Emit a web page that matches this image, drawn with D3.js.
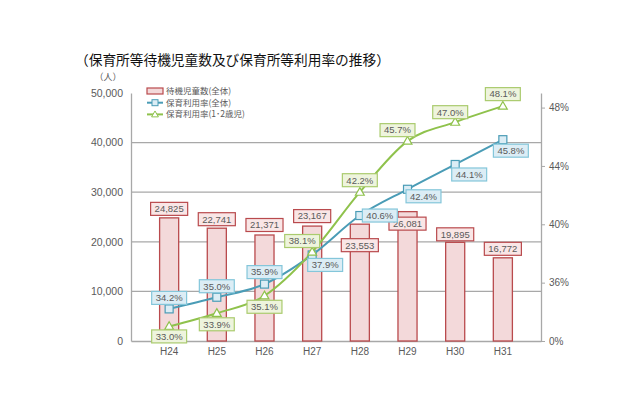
<!DOCTYPE html>
<html>
<head>
<meta charset="utf-8">
<script src="https://cdn.jsdelivr.net/npm/d3@7"></script>
<style>
  body { margin: 0; background: #fff; }
  svg { font-family: 'Noto Sans CJK JP', 'Noto Sans', sans-serif; }
</style>
</head>
<body>
<svg width="640" height="395"></svg>
<script>
// chart data
const years = ['H24', 'H25', 'H26', 'H27', 'H28', 'H29', 'H30', 'H31'];
const waiting = [24825, 22741, 21371, 23167, 23553, 26081, 19895, 16772];
const rateAll = [34.2, 35.0, 35.9, 37.9, 40.6, 42.4, 44.1, 45.8];
const rateYoung = [33.0, 33.9, 35.1, 38.1, 42.2, 45.7, 47.0, 48.1];
const leftTicks = [0, 10000, 20000, 30000, 40000, 50000];
const rightTicks = [32, 36, 40, 44, 48]; // lowest shown as 0% (broken axis)
const legendNames = ['待機児童数(全体)', '保育利用率(全体)', '保育利用率(1･2歳児)'];

// label placement (dx, dy from the mark)
const barLabelDy = [-9, -9, -10, -10, 21, 12, -8, -9];
const allLabelPos = [[0, -11], [0, -11], [0, -12], [13, 10], [20, 0], [16, 7], [14, 10], [8, 11]];
const youngLabelPos = [[0, 10], [0, 11], [0, 11], [-10, -11], [0, -12], [-10, -11], [-5, -10], [0, -12]];

const colors = {
  barFill: '#f3d9da', barStroke: '#b94a4d', barBox: '#f9e6e6',
  blue: '#4a9cb6', blueFill: '#dcedf5', blueBox: '#84c6da',
  green: '#8fc24c', greenFill: '#eef4dd', greenBox: '#aacb6e',
  grid: '#a8a8a8', text: '#5a5a5a'
};

const svg = d3.select('svg');
const margin = { top: 93, right: 99, bottom: 54, left: 131 };
const width = +svg.attr('width');
const height = +svg.attr('height');
const innerWidth = width - margin.left - margin.right;
const innerHeight = height - margin.top - margin.bottom;

const x = d3.scaleBand().domain(years).range([0, innerWidth]).padding(0.6);
const yLeft = d3.scaleLinear().domain([0, 50000]).range([innerHeight, 0]);
const yRight = d3.scaleLinear().domain([32, 49]).range([innerHeight, 0]);
const cx = (i) => x(years[i]) + x.bandwidth() / 2;

// title
svg.append('text')
  .attr('x', 75).attr('y', 65)
  .attr('font-size', 13.7).attr('fill', '#111')
  .text('（保育所等待機児童数及び保育所等利用率の推移）');

svg.append('text')
  .attr('x', 108).attr('y', 80)
  .attr('text-anchor', 'middle')
  .attr('font-size', 9).attr('fill', colors.text)
  .text('（人）');

const g = svg.append('g').attr('transform', `translate(${margin.left},${margin.top})`);

// gridlines
g.selectAll('.grid')
  .data(leftTicks.filter((d) => d > 0 && d < 50000))
  .enter().append('line')
  .attr('x1', 0).attr('x2', innerWidth)
  .attr('y1', (d) => yLeft(d)).attr('y2', (d) => yLeft(d))
  .attr('stroke', colors.grid).attr('stroke-width', 1.3);

// left axis
const leftAxis = g.append('g')
  .call(d3.axisLeft(yLeft).tickValues(leftTicks).tickFormat(d3.format(',')).tickSize(0).tickPadding(8));
leftAxis.select('.domain').attr('stroke', colors.grid).attr('stroke-width', 1.3);
leftAxis.selectAll('text').attr('font-size', 10.5).attr('fill', colors.text)
  .attr('font-family', 'Liberation Sans, Arial, sans-serif');

// right axis
const rightAxis = g.append('g')
  .attr('transform', `translate(${innerWidth},0)`)
  .call(d3.axisRight(yRight).tickValues(rightTicks)
    .tickFormat((d) => (d === 32 ? '0%' : d + '%')).tickSize(4).tickSizeOuter(0).tickPadding(4));
rightAxis.select('.domain').attr('stroke', colors.grid).attr('stroke-width', 1.3);
rightAxis.selectAll('line').attr('stroke', colors.grid);
rightAxis.selectAll('text').attr('font-size', 10).attr('fill', colors.text)
  .attr('font-family', 'Liberation Sans, Arial, sans-serif');

// bottom axis
const bottomAxis = g.append('g')
  .attr('transform', `translate(0,${innerHeight})`)
  .call(d3.axisBottom(x).tickSize(0).tickPadding(7));
bottomAxis.select('.domain').attr('stroke', colors.grid).attr('stroke-width', 1.3);
bottomAxis.selectAll('text').attr('font-size', 10).attr('fill', colors.text)
  .attr('font-family', 'Liberation Sans, Arial, sans-serif');

// bars
g.selectAll('.bar')
  .data(waiting)
  .enter().append('rect')
  .attr('x', (d, i) => x(years[i]))
  .attr('y', (d) => yLeft(d))
  .attr('width', x.bandwidth())
  .attr('height', (d) => innerHeight - yLeft(d))
  .attr('fill', colors.barFill)
  .attr('stroke', colors.barStroke)
  .attr('stroke-width', 1.3);

// lines
const drawLine = (values, color) => {
  const line = d3.line()
    .x((d, i) => cx(i))
    .y((d) => yRight(d))
    .curve(d3.curveMonotoneX);
  g.append('path')
    .datum(values)
    .attr('d', line)
    .attr('fill', 'none')
    .attr('stroke', color)
    .attr('stroke-width', 2);
};
drawLine(rateAll, colors.blue);
drawLine(rateYoung, colors.green);

// markers
g.selectAll('.sq')
  .data(rateAll)
  .enter().append('rect')
  .attr('x', (d, i) => cx(i) - 4)
  .attr('y', (d) => yRight(d) - 4)
  .attr('width', 8).attr('height', 8)
  .attr('fill', colors.blueFill)
  .attr('stroke', colors.blue).attr('stroke-width', 1.2);

const tri = d3.symbol().type(d3.symbolTriangle).size(34);
g.selectAll('.tri')
  .data(rateYoung)
  .enter().append('path')
  .attr('d', tri)
  .attr('transform', (d, i) => `translate(${cx(i)},${yRight(d) + 0.5})`)
  .attr('fill', '#fff')
  .attr('stroke', colors.green).attr('stroke-width', 1.2);

// boxed value labels
const boxLabel = (px, py, text, fill, stroke) => {
  const lg = g.append('g').attr('transform', `translate(${px},${py})`);
  const rect = lg.append('rect').attr('fill', fill).attr('stroke', stroke).attr('stroke-width', 1.2);
  const t = lg.append('text')
    .attr('text-anchor', 'middle')
    .attr('dy', '0.35em')
    .attr('font-size', 9.5)
    .attr('font-family', 'Liberation Sans, Arial, sans-serif')
    .attr('fill', colors.text)
    .text(text);
  const w = t.node().getComputedTextLength() + 8;
  rect.attr('x', -w / 2).attr('y', -6.5).attr('width', w).attr('height', 13);
};

waiting.forEach((d, i) =>
  boxLabel(cx(i), yLeft(d) + barLabelDy[i], d3.format(',')(d), colors.barBox, colors.barStroke));
rateAll.forEach((d, i) =>
  boxLabel(cx(i) + allLabelPos[i][0], yRight(d) + allLabelPos[i][1], d.toFixed(1) + '%', colors.blueFill, colors.blueBox));
rateYoung.forEach((d, i) =>
  boxLabel(cx(i) + youngLabelPos[i][0], yRight(d) + youngLabelPos[i][1], d.toFixed(1) + '%', colors.greenFill, colors.greenBox));

// legend
const legend = svg.append('g').attr('transform', 'translate(147,91)');
legendNames.forEach((name, i) => {
  const row = legend.append('g').attr('transform', `translate(0,${i * 11.7})`);
  if (i === 0) {
    row.append('rect').attr('x', 0).attr('y', -3).attr('width', 16).attr('height', 6)
      .attr('fill', colors.barFill).attr('stroke', colors.barStroke).attr('stroke-width', 1.2);
  } else {
    const c = i === 1 ? colors.blue : colors.green;
    row.append('line').attr('x1', 0).attr('x2', 16).attr('stroke', c).attr('stroke-width', 2);
    if (i === 1) {
      row.append('rect').attr('x', 5).attr('y', -3).attr('width', 6).attr('height', 6)
        .attr('fill', colors.blueFill).attr('stroke', c);
    } else {
      row.append('path').attr('d', d3.symbol().type(d3.symbolTriangle).size(20))
        .attr('transform', 'translate(8,0.5)')
        .attr('fill', '#fff').attr('stroke', c);
    }
  }
  row.append('text')
    .attr('x', 19).attr('dy', '0.35em')
    .attr('font-size', 8.5).attr('fill', colors.text)
    .text(name);
});
</script>
</body>
</html>
